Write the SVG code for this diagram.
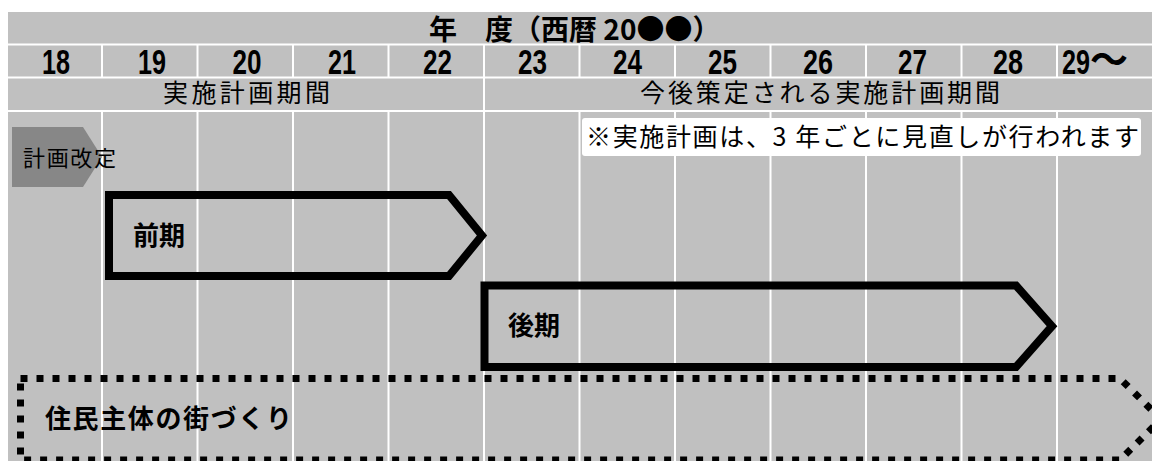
<svg xmlns="http://www.w3.org/2000/svg" width="1152" height="461" viewBox="0 0 1152 461">
<style>
.grid{stroke:#ffffff;stroke-width:2;fill:none}
.jp{font-family:"Noto Sans CJK JP","Noto Sans CJK SC",sans-serif;fill:#000}
.b{font-weight:bold}
.yr{font-family:"Liberation Sans",Arial,sans-serif;font-weight:bold;font-size:35px;fill:#000;text-anchor:middle}
.arrow{fill:none;stroke:#000;stroke-width:8;stroke-linejoin:miter}
.dotted{fill:none;stroke:#000;stroke-width:7;stroke-dasharray:7 9}
</style>
<rect x="0" y="0" width="1152" height="461" fill="#ffffff"/>
<g id="background">
<rect x="8" y="12" width="1144" height="449" fill="#c0c0c0"/>
<path class="grid" d="M8 44.5H1152M8 77.5H1152M8 111H1152"/>
<path class="grid" d="M102 45V77M197.5 45V77M293 45V77M388.5 45V77M484 45V77M579.5 45V77M675 45V77M770.5 45V77M866 45V77M961.5 45V77M1057 45V77"/>
<path class="grid" d="M484 78V111"/>
<path class="grid" d="M102 112V461M197.5 112V461M293 112V461M388.5 112V461M484 112V461M579.5 112V461M675 112V461M770.5 112V461M866 112V461M961.5 112V461M1057 112V461"/>
</g>
<g id="title">
<text class="jp b" x="429" y="40" font-size="28">年　度（西暦 20●●）</text>
</g>
<g id="years">
<text class="yr" x="56" y="73.5" textLength="28" lengthAdjust="spacingAndGlyphs">18</text>
<text class="yr" x="152" y="73.5" textLength="28" lengthAdjust="spacingAndGlyphs">19</text>
<text class="yr" x="247" y="73.5" textLength="29" lengthAdjust="spacingAndGlyphs">20</text>
<text class="yr" x="342" y="73.5" textLength="28" lengthAdjust="spacingAndGlyphs">21</text>
<text class="yr" x="437.5" y="73.5" textLength="29" lengthAdjust="spacingAndGlyphs">22</text>
<text class="yr" x="532.5" y="73.5" textLength="29" lengthAdjust="spacingAndGlyphs">23</text>
<text class="yr" x="627.5" y="73.5" textLength="29" lengthAdjust="spacingAndGlyphs">24</text>
<text class="yr" x="722.5" y="73.5" textLength="29" lengthAdjust="spacingAndGlyphs">25</text>
<text class="yr" x="818" y="73.5" textLength="30" lengthAdjust="spacingAndGlyphs">26</text>
<text class="yr" x="912.5" y="73.5" textLength="29" lengthAdjust="spacingAndGlyphs">27</text>
<text class="yr" x="1008" y="73.5" textLength="30" lengthAdjust="spacingAndGlyphs">28</text>
<text class="yr" x="1062" y="73.5" style="text-anchor:start"><tspan textLength="28" lengthAdjust="spacingAndGlyphs">29</tspan><tspan class="jp" font-size="38" dy="-1">～</tspan></text>
</g>
<g id="period-current">
<text class="jp" x="163" y="102" font-size="25" textLength="167" lengthAdjust="spacing">実施計画期間</text>
</g>
<g id="period-future">
<text class="jp" x="640" y="102" font-size="25" textLength="360" lengthAdjust="spacing">今後策定される実施計画期間</text>
</g>
<g id="note">
<rect x="582" y="118" width="559" height="38" rx="3" fill="#ffffff"/>
<text class="jp" x="586" y="146" font-size="25" textLength="553" lengthAdjust="spacing">※実施計画は、3 年ごとに見直しが行われます</text>
</g>
<g id="revision">
<polygon points="12,127 83,127 102,157 83,187 12,187" fill="#878787"/>
<text class="jp" x="23" y="166" font-size="22" textLength="93" lengthAdjust="spacing">計画改定</text>
</g>
<g id="first-term">
<polygon class="arrow" points="109,195 449,195 482,235.5 449,276 109,276"/>
<text class="jp b" x="133" y="245" font-size="26">前期</text>
</g>
<g id="second-term">
<polygon class="arrow" points="484.5,285.5 1016,285.5 1052,326.2 1016,367 484.5,367"/>
<text class="jp b" x="508" y="335" font-size="26">後期</text>
</g>
<g id="community">
<path class="dotted" d="M20.5 378.5H1120L1161 419.25L1120 460H20.5Z"/>
<text class="jp b" x="45" y="428" font-size="26" textLength="247" lengthAdjust="spacing">住民主体の街づくり</text>
</g>
<g id="connectors"></g>
</svg>
